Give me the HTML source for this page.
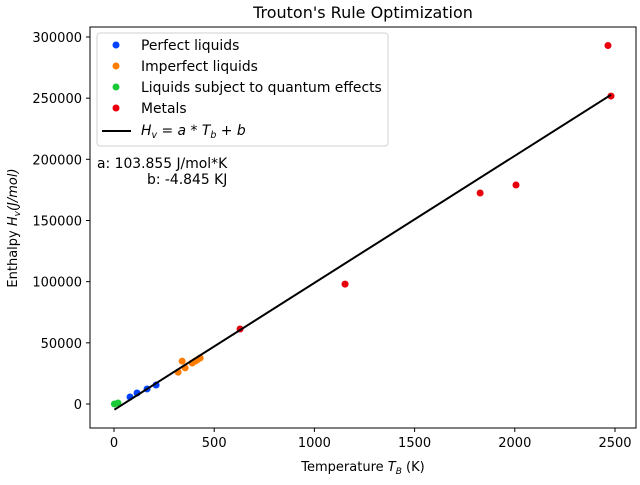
<!DOCTYPE html>
<html><head><meta charset="utf-8"><style>
body{margin:0;background:#fff;}
svg{font-family:"DejaVu Sans","Liberation Sans",sans-serif;}
</style></head><body>
<svg width="640" height="480">
<text x="363" y="18" font-size="16" text-anchor="middle">Trouton's Rule Optimization</text>
<g id="plot"></g>
<rect x="90" y="27" width="546" height="401" fill="none" stroke="#000" stroke-width="1"/>
<text x="363" y="471" font-size="13" text-anchor="middle">Temperature <tspan font-style="italic">T</tspan><tspan font-style="italic" font-size="9" dy="3">B</tspan><tspan dy="-3"> (K)</tspan></text>
<text transform="translate(17,228) rotate(-90)" font-size="13" text-anchor="middle">Enthalpy <tspan font-style="italic">H</tspan><tspan font-style="italic" font-size="9" dy="3">v</tspan><tspan dy="-3" font-style="italic">(J/mol)</tspan></text>
<g>
<rect x="97" y="33" width="291" height="113" rx="3" fill="#fff" stroke="#ccc" stroke-opacity="0.9"/>
<circle cx="116" cy="45" r="3.5" fill="#0343ff"/>
<text x="141" y="50" font-size="13.9">Perfect liquids</text>
<circle cx="116" cy="66" r="3.5" fill="#ff7d00"/>
<text x="141" y="71" font-size="13.9">Imperfect liquids</text>
<circle cx="116" cy="87" r="3.5" fill="#1ac938"/>
<text x="141" y="92" font-size="13.9">Liquids subject to quantum effects</text>
<circle cx="116" cy="108" r="3.5" fill="#e8000b"/>
<text x="141" y="113" font-size="13.9">Metals</text>
<line x1="102" y1="131" x2="131" y2="131" stroke="#000" stroke-width="2"/>
<text x="141" y="135" font-size="13.9" font-style="italic">H<tspan font-size="9.5" dy="3">v</tspan><tspan dy="-3"> = a * T</tspan><tspan font-size="9.5" dy="3">b</tspan><tspan dy="-3"> + b</tspan></text>
</g>
<text x="97" y="168" font-size="13.9">a: 103.855 J/mol*K</text>
<text x="147" y="184" font-size="13.9">b: -4.845 KJ</text>
</svg>
<script>
const xTicks=[0,500,1000,1500,2000,2500];
const yTicks=[0,50000,100000,150000,200000,250000,300000];
const perfectT=[80,115,165,210];
const perfectH=[5700,9000,12300,15500];
const imperfectT=[320,340,355,390,415,430,405];
const imperfectH=[26000,35000,29500,33500,36000,37600,35000];
const quantumT=[2,20];
const quantumH=[0,800];
const metalsT=[629,1153,1827,2006,2465,2480];
const metalsH=[61300,98000,172500,179000,293000,251700];
const fitA=103.855, fitB=-4845;
const X=t=>114+t*0.2004;
const Y=h=>404-h/817.4;
const NS="http://www.w3.org/2000/svg";
const g=document.getElementById('plot');
function mk(tag,attrs){const e=document.createElementNS(NS,tag);for(const k in attrs)e.setAttribute(k,attrs[k]);g.appendChild(e);return e;}
xTicks.forEach(t=>{
 const l=mk('line',{x1:X(t),x2:X(t),y1:428,y2:432,stroke:'#000'});
 
 
 const tx=mk('text',{x:X(t),y:447,'font-size':13,'text-anchor':'middle'});tx.textContent=t;
 
 
});
yTicks.forEach(h=>{
 const l=mk('line',{x1:86,x2:90,y1:Y(h),y2:Y(h),stroke:'#000'});
 
 
 const tx=mk('text',{x:82,y:Y(h)+5,'font-size':13,'text-anchor':'end'});tx.textContent=h;
 
 
});
function pts(T,H,c,name){T.forEach((t,i)=>{const p=mk('circle',{cx:X(t),cy:Y(H[i]),r:3.5,fill:c});
 
 });}
pts(perfectT,perfectH,'#0343ff','perfect-point');
pts(imperfectT,imperfectH,'#ff7d00','imperfect-point');
pts(quantumT,quantumH,'#1ac938','quantum-point');
pts(metalsT,metalsH,'#e8000b','metal-point');
const allT=[].concat(perfectT,imperfectT,quantumT,metalsT);
const t0=Math.min(...allT),t1=Math.max(...allT);
const fl=mk('line',{x1:X(t0),y1:Y(fitA*t0+fitB),x2:X(t1),y2:Y(fitA*t1+fitB),stroke:'#000','stroke-width':2});


</script>
</body></html>
